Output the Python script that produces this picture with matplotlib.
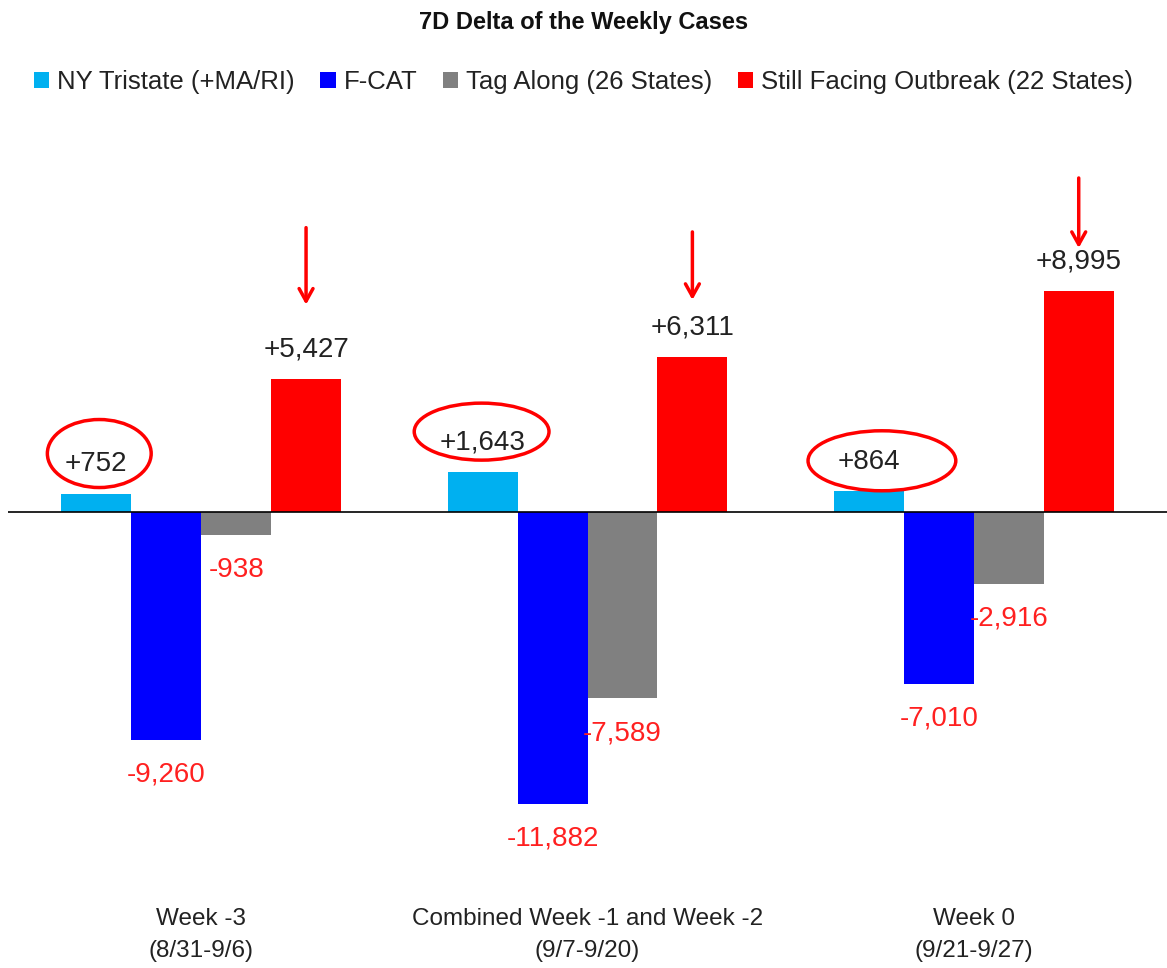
import numpy as np
import matplotlib.pyplot as plt
from matplotlib.patches import Ellipse

plt.rcParams['font.family'] = ['Liberation Sans', 'DejaVu Sans']

# data
categories = ['Week -3\n(8/31-9/6)',
              'Combined Week -1 and Week -2\n(9/7-9/20)',
              'Week 0\n(9/21-9/27)']
series = ['NY Tristate (+MA/RI)', 'F-CAT', 'Tag Along (26 States)',
          'Still Facing Outbreak (22 States)']
ny_tristate = [752, 1643, 864]
f_cat = [-9260, -11882, -7010]
tag_along = [-938, -7589, -2916]
still_facing = [5427, 6311, 8995]
values = [ny_tristate, f_cat, tag_along, still_facing]
colors = ['#00B0F0', '#0000FF', '#808080', '#FF0000']

fig = plt.figure(figsize=(11.67, 9.68), dpi=100)
ax = fig.add_axes([8 / 1167, 88 / 968, 1 - 8 / 1167, (880 - 130) / 968])

x = np.arange(len(categories))
width = 0.181
offsets = (np.arange(len(series)) - 1.5) * width
for i, s in enumerate(series):
    ax.bar(x + offsets[i], values[i], width, color=colors[i], label=s, zorder=2)
    for xi, v in zip(x + offsets[i], values[i]):
        if v >= 0:
            ax.annotate(f'+{v:,}', (xi, v), xytext=(0, 21), textcoords='offset points',
                        ha='center', va='center', fontsize=20, color='#222222')
        else:
            ax.annotate(f'-{abs(v):,}', (xi, v), xytext=(0, -25), textcoords='offset points',
                        ha='center', va='center', fontsize=20, color='#FF2020')

ax.axhline(0, color='black', lw=1.2, zorder=3)
ax.set_xlim(-0.5, 2.5)
ax.set_ylim(-14977, 15547)
ax.set_xticks([])
ax.set_yticks([])
for sp in ax.spines.values():
    sp.set_visible(False)

# category labels below the plot area
for xi, c in zip(x, categories):
    xf = ax.transData.transform((xi, 0))[0] / fig.bbox.width
    fig.text(xf, 1 - 935 / 968, c, ha='center', va='center', fontsize=17.5,
             color='#222222', linespacing=1.55)

# hand-drawn style marks: circles round the tristate labels, arrows over outbreak bars
py = (15547 + 14977) / (880 - 130)  # data units per pixel
px = 1 / 387
circ_shift = [(3, 40), (-1, 40), (13, 30)]
circ_size = [(104, 68), (135, 57), (148, 60)]
for xi, v, (dx, dy), (w, h) in zip(x + offsets[0], values[0], circ_shift, circ_size):
    ax.add_patch(Ellipse((xi + dx * px, v + dy * py), w * px, h * py,
                         fill=False, ec='#FF0000', lw=2.5, zorder=4))

arrow_pts = [(151, 74), (125, 57), (113, 43)]
for xi, v, (tail, tip) in zip(x + offsets[3], values[3], arrow_pts):
    ax.annotate('', (xi, v + tip * py), xytext=(xi, v + tail * py),
                arrowprops=dict(arrowstyle='->,head_length=0.9,head_width=0.5',
                                color='#FF0000', lw=2.5, shrinkA=0, shrinkB=0))

fig.text(0.5, 1 - 22 / 968, '7D Delta of the Weekly Cases', ha='center', va='center',
         fontsize=17, fontweight='bold', color='#111111')
fig.legend(loc='center', bbox_to_anchor=(0.5, 1 - 82 / 968), ncol=4, frameon=False,
           fontsize=18.5, handlelength=0.6, handleheight=0.6, handletextpad=0.3,
           columnspacing=1.0, labelcolor='#222222')

fig.savefig('out.png', dpi=100)
